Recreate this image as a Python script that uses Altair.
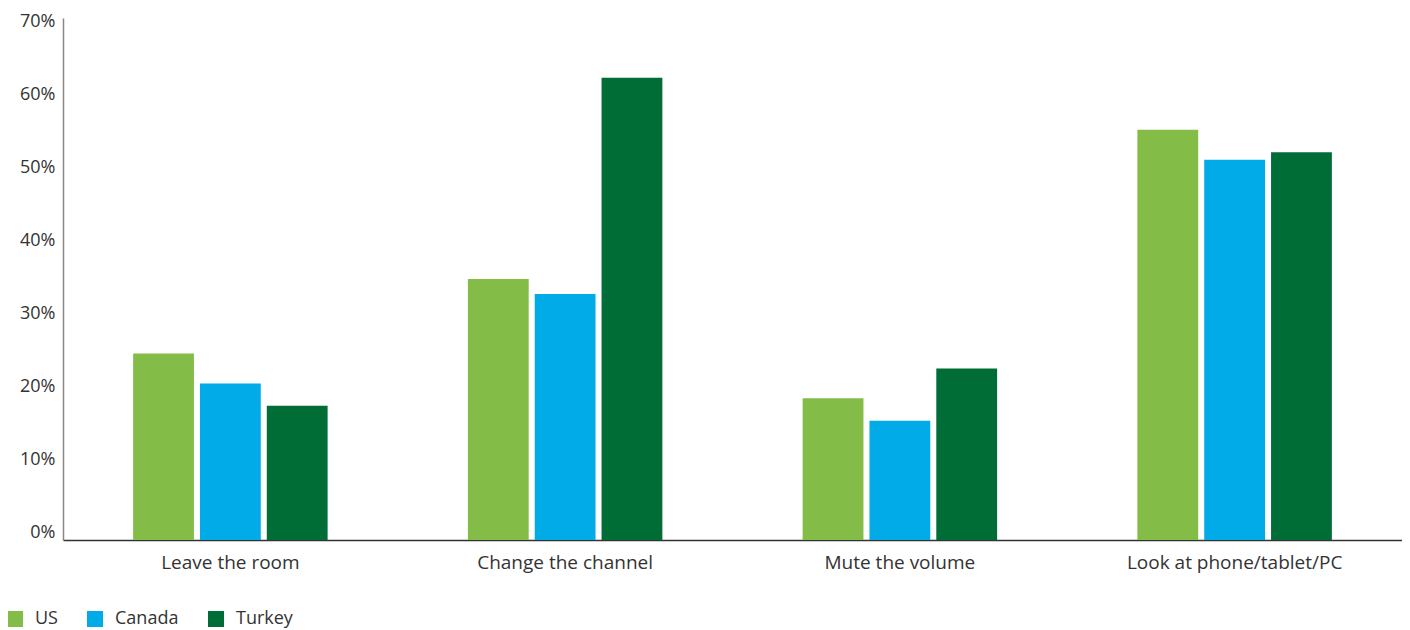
import altair as alt
import pandas as pd

categories = ["Leave the room", "Change the channel", "Mute the volume", "Look at phone/tablet/PC"]
series = ["US", "Canada", "Turkey"]
us = [25, 35, 19, 55]
canada = [21, 33, 16, 51]
turkey = [18, 62, 23, 52]
colors = ["#84BC48", "#00ABE7", "#006D37"]

rows = []
for i, c in enumerate(categories):
    for s, vals in zip(series, [us, canada, turkey]):
        rows.append({"category": c, "series": s, "value": vals[i] / 100})
df = pd.DataFrame(rows)

FONT = "Open Sans"

chart = alt.Chart(df).mark_bar().encode(
    x=alt.X("category:N", sort=categories, title=None,
            scale=alt.Scale(paddingInner=0.419, paddingOuter=0.2095),
            axis=alt.Axis(labelAngle=0, ticks=False, domainColor="#333333", domainWidth=1.5,
                          labelPadding=13, labelFontSize=19, labelColor="#333333", labelFont=FONT,
                          labelLimit=400)),
    xOffset=alt.XOffset("series:N", sort=series,
                        scale=alt.Scale(paddingInner=0.09, paddingOuter=0)),
    y=alt.Y("value:Q", title=None,
            scale=alt.Scale(domain=[0, 0.7], nice=False),
            axis=alt.Axis(format=".0%", values=[0, .1, .2, .3, .4, .5, .6, .7], grid=False, ticks=False,
                          domainColor="#888888", domainWidth=1.5, labelPadding=8,
                          labelOffset=alt.ExprRef("-8 + datum.value * 11 / 0.7"),
                          labelFontSize=18, labelColor="#333333", labelFont=FONT)),
    color=alt.Color("series:N", sort=series,
                    scale=alt.Scale(domain=series, range=colors),
                    legend=alt.Legend(title=None, orient="none", legendX=-57, legendY=592,
                                      direction="horizontal", symbolType="square", symbolSize=256,
                                      symbolStrokeWidth=0, labelFontSize=18, labelFont=FONT,
                                      labelColor="#333333", columnPadding=28, labelOffset=11)),
).properties(
    width=1339, height=522,
    autosize=alt.AutoSizeParams(type="none"),
    padding={"left": 55, "top": 10, "right": 0, "bottom": 90},
).configure_view(stroke=None)

chart.save("out.html", embed_options={"renderer": "svg", "actions": False})
